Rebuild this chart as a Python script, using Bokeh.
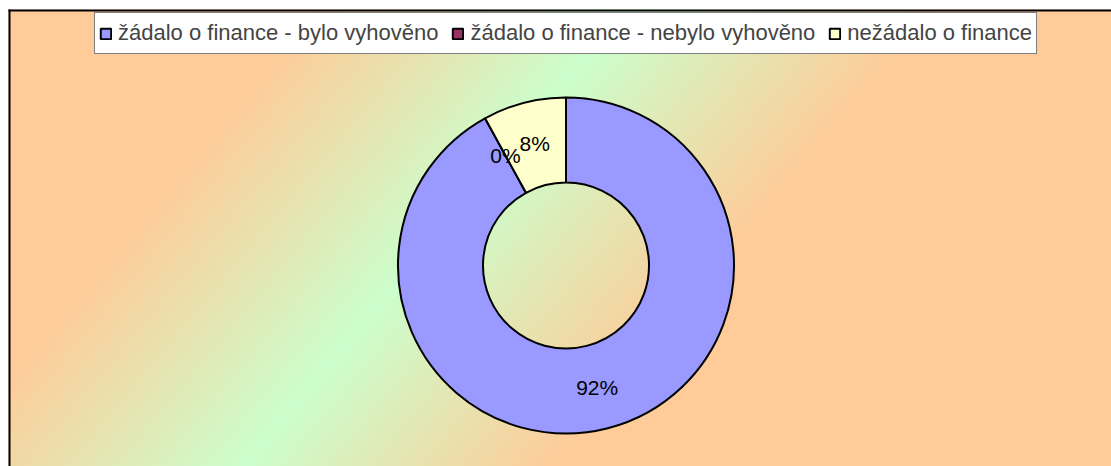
import numpy as np
from bokeh.plotting import figure
from bokeh.models import ColumnDataSource, Range1d, Legend, LegendItem
from bokeh.core.properties import value
from bokeh.embed import file_html
from bokeh.resources import INLINE

# ---- data ----
categories = ["žádalo o finance - bylo vyhověno",
              "žádalo o finance - nebylo vyhověno",
              "nežádalo o finance"]
shares = [92, 0, 8]
colors = ["#9999FF", "#993366", "#FFFFCC"]

W, H = 1111, 466
FONT = "Liberation Sans"

p = figure(width=W, height=H, output_backend="svg", toolbar_location=None,
           x_range=Range1d(0, W), y_range=Range1d(0, H),
           x_axis_type=None, y_axis_type=None, min_border=0,
           background_fill_color="white", border_fill_color="white")
p.grid.visible = False
p.outline_line_color = None

# ---- background gradient (orange -> green -> orange, diagonal) ----
bx0, btop = 8, 9          # page coords of chart-area top-left
bw, bh = W - bx0, H - btop
gw, gh = bw // 2, bh // 2
xs = bx0 + (np.arange(gw) + 0.5) * (bw / gw)
ys = (np.arange(gh) + 0.5) * (bh / gh)
X, Y = np.meshgrid(xs, ys)
py = H - Y
s = 0.767 * X + 0.642 * py
t = np.clip(np.abs(s - 485.0) / 240.0, 0, 1)[..., None]
green = np.array([204, 255, 204], dtype=float)
orange = np.array([255, 204, 153], dtype=float)
rgb = green * (1 - t) + orange * t
img = np.empty((gh, gw), dtype=np.uint32)
view = img.view(dtype=np.uint8).reshape((gh, gw, 4))
view[..., :3] = rgb.astype(np.uint8)
view[..., 3] = 255
p.image_rgba(image=[img], x=bx0, y=0, dw=bw, dh=bh)

# chart-area border (left and top edges)
p.segment(x0=[9, 8], y0=[0, H - 10], x1=[9, W], y1=[H - 9, H - 10],
          line_color="black", line_width=2)

# ---- donut ----
cx, cy = 565.5, 201
r_in, r_out = 83, 168
vals = np.array(shares, dtype=float)
frac = vals / vals.sum()
ends_cum = np.cumsum(frac)
starts_cum = ends_cum - frac
start_ang = np.pi / 2 - starts_cum * 2 * np.pi
end_ang = np.pi / 2 - ends_cum * 2 * np.pi
# a zero-size slice must not be read as a full ring
end_ang = np.where(np.isclose(end_ang, start_ang), start_ang - 1e-4, end_ang)
mid_ang = (start_ang + end_ang) / 2
r_mid = (r_in + r_out) / 2

src = ColumnDataSource(dict(
    cat=categories, start=start_ang, end=end_ang, color=colors,
    lx=cx + r_mid * np.cos(mid_ang), ly=cy + r_mid * np.sin(mid_ang),
    label=[f"{int(round(v))}%" for v in frac * 100],
))

r = p.annular_wedge(x=cx, y=cy, inner_radius=r_in, outer_radius=r_out,
                    start_angle="start", end_angle="end", direction="clock",
                    fill_color="color", line_color="black", line_width=2,
                    source=src)

p.text(x="lx", y="ly", text="label", source=src, text_align="center",
       text_baseline="middle", text_font=value(FONT), text_font_size="21px",
       text_color="black")

legend = Legend(items=[LegendItem(label=c, renderers=[r], index=i)
                       for i, c in enumerate(categories)],
                orientation="horizontal", location=(94, 412),
                label_text_font=FONT, label_text_font_size="22px",
                glyph_width=13, glyph_height=13, label_standoff=6,
                spacing=13, padding=4, label_height=32, margin=0,
                border_line_color="black", border_line_width=1.5,
                background_fill_color="white", background_fill_alpha=1)
p.add_layout(legend)

open("out.html", "w").write(file_html(p, INLINE))
